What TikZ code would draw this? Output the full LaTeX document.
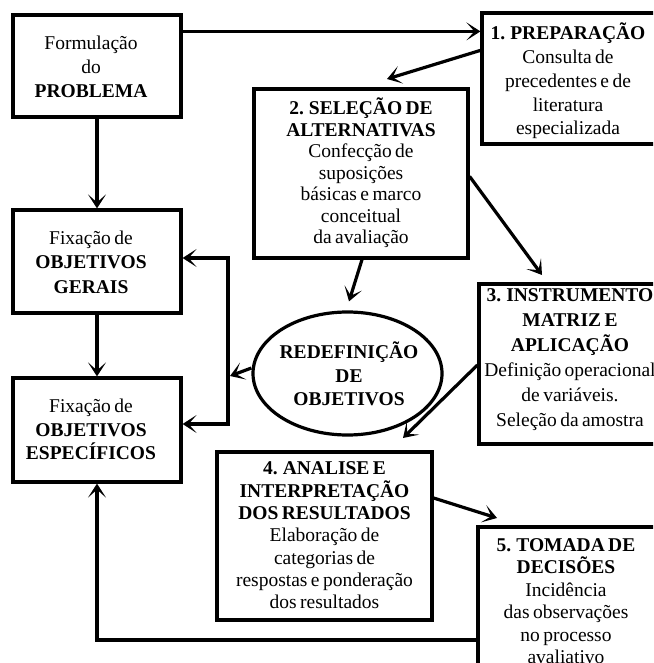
\documentclass[tikz,border=0pt]{standalone}
\usepackage{fontspec}
\setmainfont[WordSpace=0.7]{Liberation Serif}
\usetikzlibrary{arrows.meta,shapes.geometric}
\begin{document}
\begin{tikzpicture}[x=1pt,y=-1pt,
  frame/.style={draw, rectangle, line width=3.2pt, inner sep=0pt},
  oval/.style={draw, ellipse, line width=3.2pt, inner sep=0pt},
  lbl/.style={align=center, inner sep=0pt, font=\fontsize{19.5}{#1}\selectfont},
  link/.style={line width=3.2pt, -{Stealth[length=14pt,width=18pt,inset=8pt]}},
  twoway/.style={line width=3.2pt, {Stealth[length=14pt,width=18pt,inset=8pt]}-{Stealth[length=14pt,width=18pt,inset=8pt]}}]
\useasboundingbox (0,0) rectangle (653,663);
\clip (0,0) rectangle (653,663);

% frames of the stages
\node[frame, minimum width=168pt, minimum height=102pt] (A)  at (97,66) {};
\node[frame, minimum width=168pt, minimum height=103pt] (G)  at (97,261.5) {};
\node[frame, minimum width=168pt, minimum height=104pt] (E)  at (97,430) {};
\node[frame, minimum width=174pt, minimum height=131pt] (b1) at (569,78.5) {};
\node[frame, minimum width=214pt, minimum height=169pt] (b2) at (361,173.5) {};
\node[frame, minimum width=182pt, minimum height=160pt] (b3) at (570,364) {};
\node[frame, minimum width=215pt, minimum height=168pt] (b4) at (324.5,536) {};
\node[frame, minimum width=178pt, minimum height=150pt] (b5) at (567,602) {};
\node[oval, minimum width=189pt, minimum height=123pt] (ell) at (347.5,373.5) {};

% texts
\node[lbl=24] (tA) at (91,67) {Formulação\\do\\\textbf{PROBLEMA}};
\node[lbl=24.5] (tG) at (91,262) {Fixação de\\\textbf{OBJETIVOS}\\\textbf{GERAIS}};
\node[lbl=23.5] (tE) at (91,429.5) {Fixação de\\\textbf{OBJETIVOS}\\\textbf{ESPECÍFICOS}};
\node[lbl=23.75] (t1) at (568,81) {\textbf{1. PREPARAÇÃO}\\Consulta de\\precedentes e de\\literatura\\especializada};
\node[lbl=21.5] (t2) at (361,173) {\textbf{2. SELEÇÃO DE}\\\textbf{ALTERNATIVAS}\\Confecção de\\suposições\\básicas e marco\\conceitual\\da avaliação};
\node[lbl=25] (t3) at (570,360) {\textbf{3. INSTRUMENTO}\\\textbf{MATRIZ E}\\\textbf{APLICAÇÃO}\\Definição operacional\\de variáveis.\\Seleção da amostra};
\node[lbl=22.3] (t4) at (324.5,535.5) {\textbf{4. ANALISE E}\\\textbf{INTERPRETAÇÃO}\\\textbf{DOS RESULTADOS}\\Elaboração de\\categorias de\\respostas e ponderação\\dos resultados};
\node[lbl=22.5] (t5) at (566,601) {\textbf{5. TOMADA DE}\\\textbf{DECISÕES}\\Incidência\\das observações\\no processo\\avaliativo};
\node[lbl=23.5] (tl) at (349,374) {\textbf{REDEFINIÇÃO}\\\textbf{DE}\\\textbf{OBJETIVOS}};

% connector ends
\path (A.north east) ++(0,18) coordinate (s1);
\path (b1.north west) ++(0,39) coordinate (s2);
\coordinate (e2) at (387,79);
\path (b2.north east) ++(0,89) coordinate (s3);
\coordinate (e3) at (542,275);
\path (b2.south) ++(1,0) coordinate (s4);
\path (ell.north) ++(1.5,-9) coordinate (e4);
\path (b3.west) ++(0,1) coordinate (s5);
\coordinate (e5) at (403,438);
\path (b4.east) ++(0,-38) coordinate (s6);
\coordinate (e6) at (497,518);
\path (ell.west) ++(0,-5.5) coordinate (s7);
\coordinate (e7) at (230,376);
\coordinate (v1) at (228,258);
\coordinate (v2) at (228,424);
\path (b5.west) ++(0,38) coordinate (s8);

% connectors
\draw[link] (s1) -- (s1 -| b1.west);
\draw[link] (s2) -- (e2);
\draw[link] (s3) -- (e3);
\draw[link] (s4) -- (e4);
\draw[link] (s5) -- (e5);
\draw[link] (s6) -- (e6);
\draw[link] (s7) -- (e7);
\draw[twoway] (v1 -| G.east) -- (v1) -- (v2) -- (v2 -| E.east);
\draw[link] (A) -- (G);
\draw[link] (G) -- (E);
\draw[link] (s8) -| (E.south);
\end{tikzpicture}
\end{document}
